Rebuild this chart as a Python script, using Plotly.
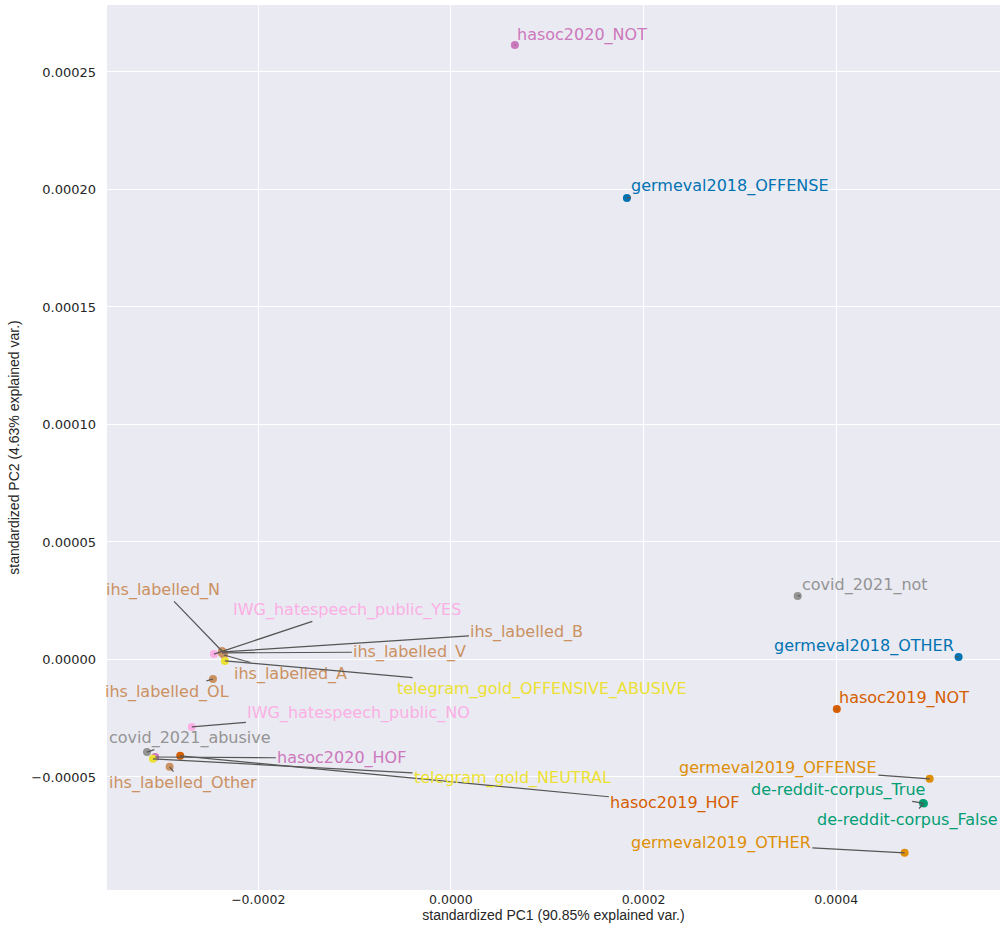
import plotly.graph_objects as go

# PCA projection of dataset/label combinations
labels = [
    "hasoc2020_NOT", "germeval2018_OFFENSE", "covid_2021_not", "germeval2018_OTHER",
    "hasoc2019_NOT", "germeval2019_OFFENSE", "de-reddit-corpus_True", "de-reddit-corpus_False",
    "germeval2019_OTHER", "IWG_hatespeech_public_YES", "ihs_labelled_N", "ihs_labelled_B",
    "ihs_labelled_V", "ihs_labelled_A", "telegram_gold_OFFENSIVE_ABUSIVE", "ihs_labelled_OL",
    "IWG_hatespeech_public_NO", "covid_2021_abusive", "hasoc2020_HOF", "hasoc2019_HOF",
    "ihs_labelled_Other", "telegram_gold_NEUTRAL",
]
pc1 = [
    6.64e-5, 1.827e-4, 3.60e-4, 5.27e-4,
    4.006e-4, 4.97e-4, 4.90e-4, 4.91e-4,
    4.71e-4, -2.46e-4, -2.377e-4, -2.367e-4,
    -2.377e-4, -2.356e-4, -2.346e-4, -2.47e-4,
    -2.69e-4, -3.155e-4, -3.07e-4, -2.81e-4,
    -2.92e-4, -3.093e-4,
]
pc2 = [
    2.615e-4, 1.964e-4, 2.70e-5, 1.06e-6,
    -2.11e-5, -5.08e-5, -6.11e-5, -6.13e-5,
    -8.23e-5, 2.3e-6, 3.6e-6, 3.2e-6,
    2.8e-6, 1.9e-6, -6e-7, -8.3e-6,
    -2.87e-5, -3.94e-5, -4.15e-5, -4.10e-5,
    -4.57e-5, -4.23e-5,
]

# dataset colours (seaborn "colorblind" palette)
palette = {
    "germeval2018": "#0173b2",
    "germeval2019": "#de8f05",
    "de-reddit-corpus": "#029e73",
    "hasoc2019": "#d55e00",
    "hasoc2020": "#cc78bc",
    "ihs_labelled": "#ca9161",
    "IWG_hatespeech_public": "#fbafe4",
    "covid_2021": "#949494",
    "telegram_gold": "#ece133",
}


def dataset_of(name):
    for key in sorted(palette, key=len, reverse=True):
        if name.startswith(key):
            return key
    return None


colors = [palette[dataset_of(n)] for n in labels]

# label placement (text centres after repelling overlaps)
label_x = [
    1.36e-4, 2.896e-4, 4.297e-4, 4.287e-4,
    4.702e-4, 3.394e-4, 4.017e-4, 4.743e-4,
    2.802e-4, -1.079e-4, -2.989e-4, 7.89e-5,
    -4.26e-5, -1.661e-4, 9.44e-5, -2.948e-4,
    -9.55e-5, -2.709e-4, -1.131e-4, 2.325e-4,
    -2.782e-4, 6.4e-5,
]
label_y = [
    2.657e-4, 2.015e-4, 3.17e-5, 5.7e-6,
    -1.64e-5, -4.62e-5, -5.55e-5, -6.83e-5,
    -7.8e-5, 2.11e-5, 2.96e-5, 1.17e-5,
    3.2e-6, -6.2e-6, -1.26e-5, -1.4e-5,
    -2.28e-5, -3.35e-5, -4.2e-5, -6.11e-5,
    -5.26e-5, -5.05e-5,
]

fig = go.Figure()
fig.add_trace(go.Scatter(
    x=pc1, y=pc2, mode="markers",
    marker=dict(size=8, color=colors, line=dict(width=0)),
    hovertext=labels, hoverinfo="text", showlegend=False,
))

for name, px, py, lx, ly, c in zip(labels, pc1, pc2, label_x, label_y, colors):
    fig.add_annotation(
        x=px, y=py, xref="x", yref="y",
        ax=lx, ay=ly, axref="x", ayref="y",
        text=name, showarrow=True, arrowhead=0, arrowwidth=1.2,
        arrowcolor="#555555", standoff=0, startstandoff=0,
        font=dict(family="DejaVu Sans", size=16, color=c),
    )

fig.update_layout(
    width=1004, height=938,
    margin=dict(l=107, r=4, t=5, b=48),
    paper_bgcolor="white",
    plot_bgcolor="#eaeaf2",
    font=dict(family="DejaVu Sans", size=12, color="#262626"),
)
fig.update_xaxes(
    range=[-0.000357, 0.00057],
    tickvals=[-0.0002, 0.0, 0.0002, 0.0004],
    ticktext=["\u22120.0002", "0.0000", "0.0002", "0.0004"],
    tickfont=dict(size=12.5),
    gridcolor="white", gridwidth=1, zeroline=False, showline=False, ticks="",
    title=dict(text="standardized PC1 (90.85% explained var.)",
               font=dict(family="Liberation Sans", size=14), standoff=4),
)
fig.update_yaxes(
    range=[-0.0000981, 0.0002785],
    tickvals=[-0.00005, 0.0, 0.00005, 0.0001, 0.00015, 0.0002, 0.00025],
    ticktext=["\u22120.00005", "0.00000", "0.00005", "0.00010", "0.00015", "0.00020", "0.00025"],
    tickfont=dict(size=13),
    gridcolor="white", gridwidth=1, zeroline=False, showline=False, ticks="",
    ticklabelstandoff=10,
    title=dict(text="standardized PC2 (4.63% explained var.)",
               font=dict(family="Liberation Sans", size=14), standoff=8),
)

fig.write_html("out.html")
